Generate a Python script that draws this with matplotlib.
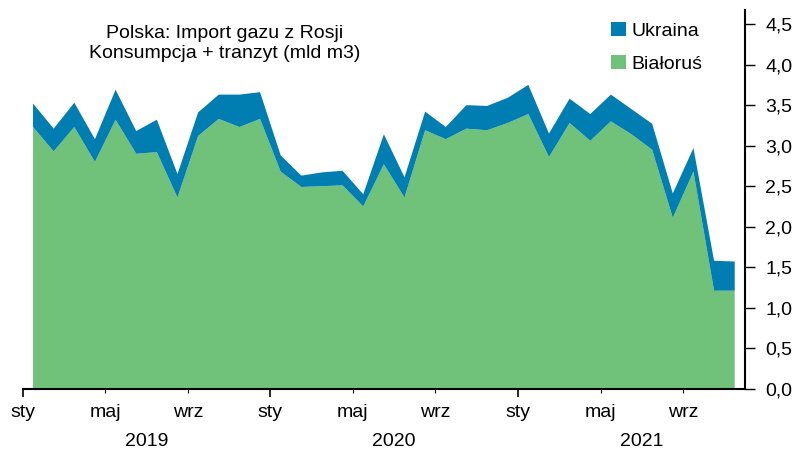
import numpy as np
import matplotlib
matplotlib.use("Agg")
import matplotlib.pyplot as plt

# monthly values, Jan 2019 - Nov 2021 (mld m3)
bialorus = [3.23, 2.93, 3.23, 2.80, 3.32, 2.90, 2.92, 2.36, 3.12, 3.33, 3.23, 3.33,
            2.68, 2.49, 2.50, 2.51, 2.25, 2.77, 2.36, 3.19, 3.08, 3.21, 3.19, 3.28,
            3.39, 2.86, 3.28, 3.06, 3.30, 3.14, 2.95, 2.11, 2.68, 1.21, 1.21]
ukraina = [0.29, 0.28, 0.30, 0.28, 0.37, 0.28, 0.40, 0.29, 0.29, 0.30, 0.40, 0.33,
           0.20, 0.14, 0.17, 0.18, 0.15, 0.37, 0.25, 0.23, 0.15, 0.29, 0.30, 0.31,
           0.36, 0.29, 0.30, 0.33, 0.33, 0.31, 0.32, 0.30, 0.29, 0.37, 0.36]
years = ['2019', '2020', '2021']
month_labels = ['sty', 'maj', 'wrz']
yticks = [0.0, 0.5, 1.0, 1.5, 2.0, 2.5, 3.0, 3.5, 4.0, 4.5]

GREEN = '#70c17a'
BLUE = '#007db1'
FS = 14

plt.rcParams['font.family'] = ['Liberation Sans', 'DejaVu Sans']

fig = plt.figure(figsize=(7.97, 4.51), dpi=100)
ax = fig.add_axes([0.0285, 0.138, 0.9063, 0.840])

# data points sit mid-month
x = np.arange(len(bialorus)) + 0.5
ax.stackplot(x, bialorus, ukraina, colors=[GREEN, BLUE],
             labels=['Białoruś', 'Ukraina'], linewidth=0)

ax.set_xlim(0, 35)
ax.set_ylim(0, 4.675)

# x axis: 'sty' as major ticks, 'maj'/'wrz' as minor ticks
major = [12 * i for i in range(len(years))]
minor = [12 * i + m for i in range(len(years)) for m in (4, 8)]
ax.set_xticks(major, [month_labels[0]] * len(major))
ax.set_xticks(minor, [month_labels[j % 2 + 1] for j in range(len(minor))], minor=True)
ax.tick_params(axis='x', which='major', length=6, width=1.2, pad=5, labelsize=FS)
ax.tick_params(axis='x', which='minor', length=3, width=0.8, pad=8, labelsize=FS)

for i, yr in enumerate(years):
    ax.text(12 * i + 6, -0.14, yr, transform=ax.get_xaxis_transform(),
            ha='center', va='center', fontsize=FS)

# y axis on the right
ax.yaxis.tick_right()
ax.set_yticks(yticks, [f'{v:.1f}'.replace('.', ',') for v in yticks])
ax.tick_params(axis='y', length=7.5, width=1.0, pad=7, labelsize=FS)

for side in ['top', 'left']:
    ax.spines[side].set_visible(False)
for side in ['bottom', 'right']:
    ax.spines[side].set_linewidth(1.5)

fig.text(225 / 797, 1 - 43.5 / 451,
         'Polska: Import gazu z Rosji\nKonsumpcja + tranzyt (mld m3)',
         ha='center', va='center', fontsize=FS, linespacing=1.25)

handles, labels = ax.get_legend_handles_labels()
ax.legend(handles[::-1], labels[::-1], loc='upper left',
          bbox_to_anchor=(611 / 797, 1 - 22 / 451), bbox_transform=fig.transFigure,
          frameon=False, fontsize=FS, handlelength=0.77, handleheight=0.77,
          handletextpad=0.3, labelspacing=0.75, borderpad=0, borderaxespad=0)

fig.savefig('out.png', dpi=100)
